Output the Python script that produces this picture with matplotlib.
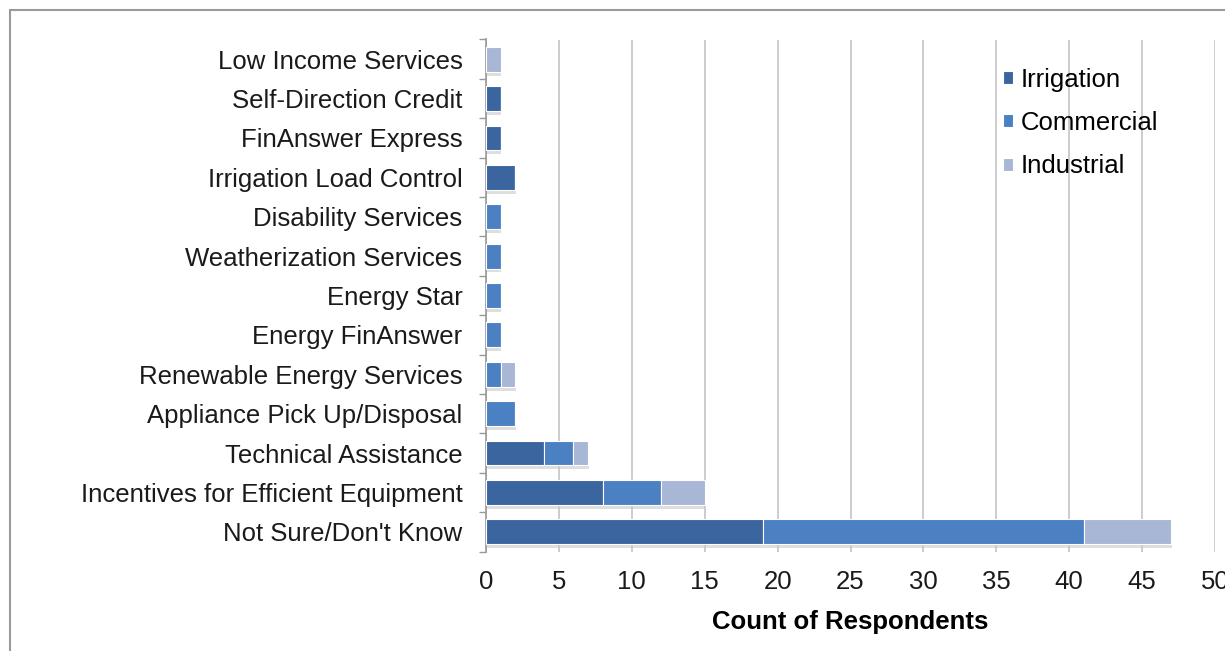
import matplotlib
matplotlib.use("Agg")
import matplotlib.pyplot as plt
from matplotlib.patches import Rectangle
import numpy as np

categories = ["Low Income Services", "Self-Direction Credit", "FinAnswer Express",
              "Irrigation Load Control", "Disability Services", "Weatherization Services",
              "Energy Star", "Energy FinAnswer", "Renewable Energy Services",
              "Appliance Pick Up/Disposal", "Technical Assistance",
              "Incentives for Efficient Equipment", "Not Sure/Don't Know"]
irrigation = [0, 1, 1, 2, 0, 0, 0, 0, 0, 0, 4, 8, 19]
commercial = [0, 0, 0, 0, 1, 1, 1, 1, 1, 2, 2, 4, 22]
industrial = [1, 0, 0, 0, 0, 0, 0, 0, 1, 0, 1, 3, 6]
series_names = ["Irrigation", "Commercial", "Industrial"]
colors = ["#3b659f", "#4b80c2", "#a8b7d6"]

plt.rcParams['font.family'] = ['Liberation Sans', 'DejaVu Sans']
FS = 18.5

fig = plt.figure(figsize=(12.25, 6.51), dpi=100)
ax = fig.add_axes([486/1225, 1-551.5/651, (1215-486)/1225, (551.5-39.5)/651])

y = np.arange(len(categories))
left = np.zeros(len(categories))
data = [irrigation, commercial, industrial]
h = 0.63
# subtle shadow
totals = np.sum(data, axis=0)
ax.barh(y + 0.1, totals, height=h, left=0.05, color="#c8c8c8", alpha=0.6, zorder=2)
for name, vals, c in zip(series_names, data, colors):
    vals = np.array(vals, dtype=float)
    ax.barh(y, vals, height=h, left=left, color=c, label=name, zorder=3,
            edgecolor="white", linewidth=0.8)
    left += vals

ax.set_ylim(len(categories) - 0.5, -0.5)
ax.set_xlim(0, 50)
ax.set_xticks(np.arange(0, 51, 5))
ax.set_yticks(y)
ax.set_yticklabels(categories, fontsize=FS, color="#1a1a1a")
ax.tick_params(axis='y', length=0, pad=17)
ax.set_yticks(np.arange(-0.5, len(categories), 1), minor=True)
ax.tick_params(axis='y', which='minor', length=5, color="#999999", width=1)
ax.tick_params(axis='x', labelsize=FS, length=0, pad=13, labelcolor="#1a1a1a")
ax.xaxis.grid(True, color="#c4c4c4", linewidth=1.2, zorder=0)
ax.set_axisbelow(True)
for s in ["top", "right", "bottom"]:
    ax.spines[s].set_visible(False)
ax.spines["left"].set_color("#999999")
ax.spines["left"].set_linewidth(1.2)
ax.set_xlabel("Count of Respondents", fontsize=FS, fontweight="bold", labelpad=12)

leg = ax.legend(loc="upper left", bbox_to_anchor=(0.695, 0.965), frameon=False,
                fontsize=FS, handlelength=0.4, handleheight=0.4, handletextpad=0.3,
                labelspacing=0.75, borderaxespad=0)

fig.patches.append(Rectangle((10/1225, -0.1), 1.2, 1.1 - 10/651, transform=fig.transFigure,
                             fill=False, edgecolor="#9a9a9a", linewidth=1.5))
fig.savefig("out.png", dpi=100)
